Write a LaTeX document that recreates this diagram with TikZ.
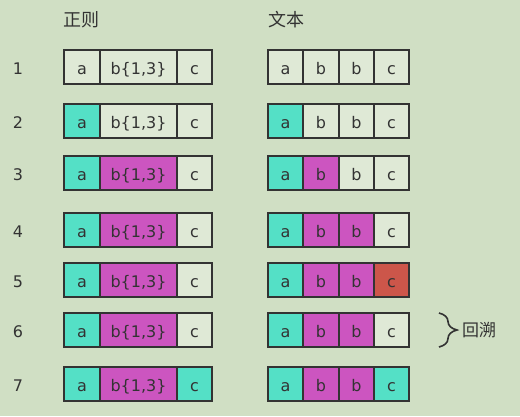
\documentclass[tikz,border=0pt]{standalone}
\usepackage{fontspec}
\setmainfont{DejaVu Sans}
\newfontfamily\cjk{Noto Sans CJK SC}
\usetikzlibrary{decorations.pathreplacing}

\definecolor{bg}{RGB}{208,223,196}
\definecolor{blank}{RGB}{223,233,214}
\definecolor{ink}{RGB}{51,51,51}
\definecolor{hit}{RGB}{84,224,198}
\definecolor{rep}{RGB}{204,85,192}
\definecolor{miss}{RGB}{204,86,74}

\tikzset{
	cell/.style={draw=ink, fill=blank, text=ink, line width=2pt, minimum height=34pt,
		inner sep=0pt, outer sep=0pt, text height=15pt, text depth=0pt,
		font=\fontsize{16}{16}\selectfont},
	one/.style={cell, minimum width=35pt},
	fat/.style={cell, minimum width=36pt},
	wide/.style={cell, minimum width=77pt},
	num/.style={text=ink, inner sep=0pt, text height=15pt, text depth=0pt,
		font=\fontsize{16}{16}\selectfont},
	head/.style={text=ink, font=\cjk\fontsize{18}{18}\selectfont}
}

\begin{document}
\begin{tikzpicture}[x=1pt, y=-1pt]
		\fill[bg] (0,0) rectangle (520,416);
		\useasboundingbox (0,0) rectangle (520,416);

		\node[head] (regex) at (81.5,20) {正则};
		\node[head] (text) at (286,20) {文本};

		\node[num] (n1) at (18,67) {1};
		\node[num] (n2) at (18,121) {2};
		\node[num] (n3) at (18,173) {3};
		\node[num] (n4) at (18,230) {4};
		\node[num] (n5) at (18,280) {5};
		\node[num] (n6) at (18,330) {6};
		\node[num] (n7) at (18,384) {7};

		% row 1
		\node[fat] (r1a) at (82,67) {a};
		\node[wide] (r1b) at (138.5,67) {b\{1,3\}};
		\node[one] (r1c) at (194.5,67) {c};
		\node[one] (t1a) at (285.5,67) {a};
		\node[fat] (t1b) at (321,67) {b};
		\node[one] (t1bb) at (356.5,67) {b};
		\node[one] (t1c) at (391.5,67) {c};

		% row 2
		\node[fat, fill=hit] (r2a) at (82,121) {a};
		\node[wide] (r2b) at (138.5,121) {b\{1,3\}};
		\node[one] (r2c) at (194.5,121) {c};
		\node[one, fill=hit] (t2a) at (285.5,121) {a};
		\node[fat] (t2b) at (321,121) {b};
		\node[one] (t2bb) at (356.5,121) {b};
		\node[one] (t2c) at (391.5,121) {c};

		% row 3
		\node[fat, fill=hit] (r3a) at (82,173) {a};
		\node[wide, fill=rep] (r3b) at (138.5,173) {b\{1,3\}};
		\node[one] (r3c) at (194.5,173) {c};
		\node[one, fill=hit] (t3a) at (285.5,173) {a};
		\node[fat, fill=rep] (t3b) at (321,173) {b};
		\node[one] (t3bb) at (356.5,173) {b};
		\node[one] (t3c) at (391.5,173) {c};

		% row 4
		\node[fat, fill=hit] (r4a) at (82,230) {a};
		\node[wide, fill=rep] (r4b) at (138.5,230) {b\{1,3\}};
		\node[one] (r4c) at (194.5,230) {c};
		\node[one, fill=hit] (t4a) at (285.5,230) {a};
		\node[fat, fill=rep] (t4b) at (321,230) {b};
		\node[one, fill=rep] (t4bb) at (356.5,230) {b};
		\node[one] (t4c) at (391.5,230) {c};

		% row 5
		\node[fat, fill=hit] (r5a) at (82,280) {a};
		\node[wide, fill=rep] (r5b) at (138.5,280) {b\{1,3\}};
		\node[one] (r5c) at (194.5,280) {c};
		\node[one, fill=hit] (t5a) at (285.5,280) {a};
		\node[fat, fill=rep] (t5b) at (321,280) {b};
		\node[one, fill=rep] (t5bb) at (356.5,280) {b};
		\node[one, fill=miss] (t5c) at (391.5,280) {c};

		% row 6
		\node[fat, fill=hit] (r6a) at (82,330) {a};
		\node[wide, fill=rep] (r6b) at (138.5,330) {b\{1,3\}};
		\node[one] (r6c) at (194.5,330) {c};
		\node[one, fill=hit] (t6a) at (285.5,330) {a};
		\node[fat, fill=rep] (t6b) at (321,330) {b};
		\node[one, fill=rep] (t6bb) at (356.5,330) {b};
		\node[one] (t6c) at (391.5,330) {c};

		% row 7
		\node[fat, fill=hit] (r7a) at (82,384) {a};
		\node[wide, fill=rep] (r7b) at (138.5,384) {b\{1,3\}};
		\node[one, fill=hit] (r7c) at (194.5,384) {c};
		\node[one, fill=hit] (t7a) at (285.5,384) {a};
		\node[fat, fill=rep] (t7b) at (321,384) {b};
		\node[one, fill=rep] (t7bb) at (356.5,384) {b};
		\node[one, fill=hit] (t7c) at (391.5,384) {c};

		\coordinate (top) at (439,313);
		\coordinate (bot) at (439,347);
		\draw[ink, line width=1.6pt, decorate, decoration={brace, amplitude=18pt}] (top) -- (bot);
		\node[text=ink, font=\cjk\fontsize{17}{17}\selectfont] (back) at (479,330) {回溯};
	\end{tikzpicture}
\end{document}
